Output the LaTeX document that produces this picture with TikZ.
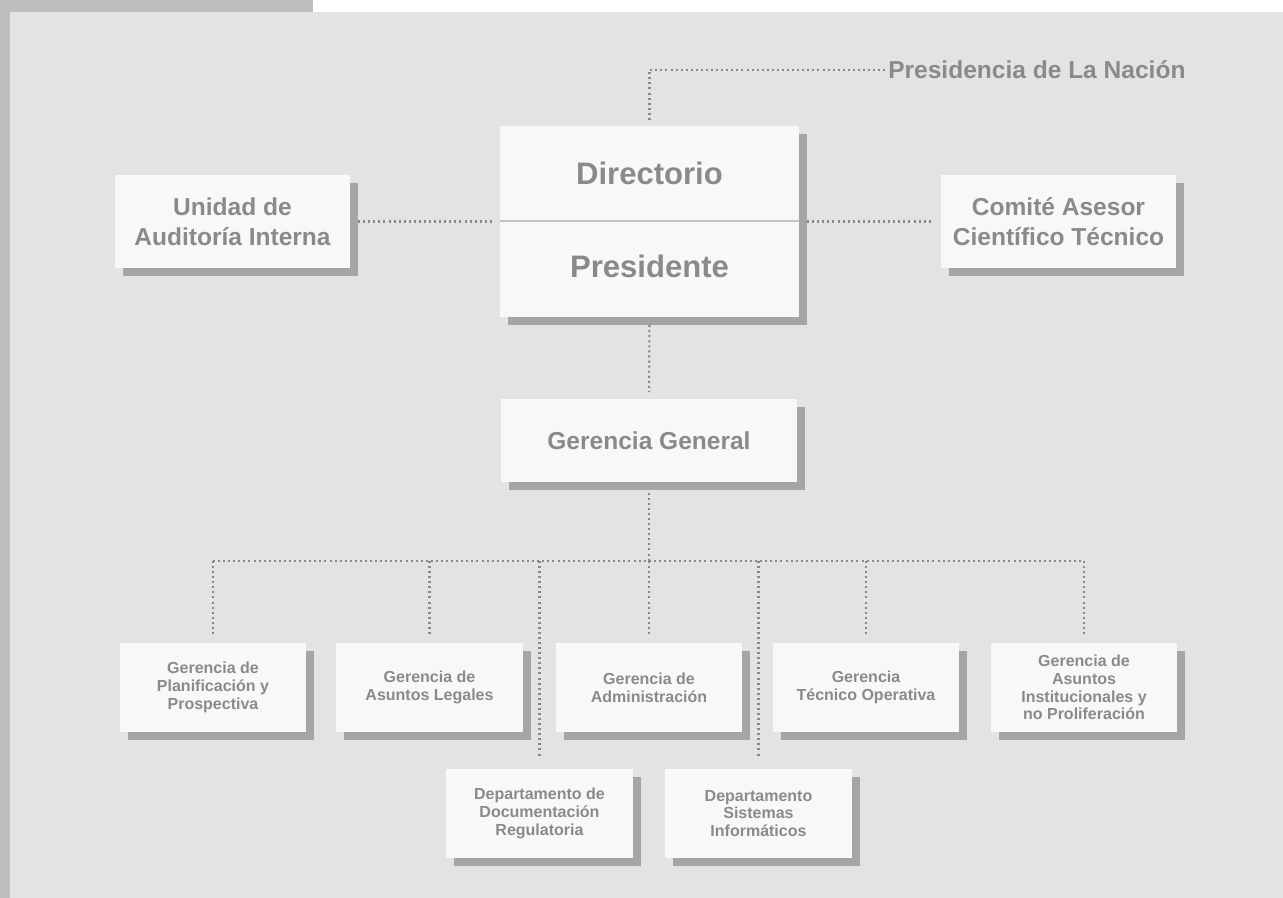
\documentclass[tikz,border=0pt]{standalone}
\usepackage{fontspec}
\setmainfont{Liberation Sans}
\usepackage{tikz}
\usetikzlibrary{shadows}
\definecolor{panel}{HTML}{E3E3E3}
\definecolor{strip}{HTML}{BEBEBE}
\definecolor{boxfill}{HTML}{F8F8F8}
\definecolor{shade}{HTML}{A5A5A5}
\definecolor{txt}{HTML}{8A8A8A}
\definecolor{dots}{HTML}{888888}
\definecolor{divider}{HTML}{C4C4C4}
\newcommand{\bigsize}{\fontsize{23.3}{28}\selectfont\bfseries}
\newcommand{\midsize}{\fontsize{18.4}{22.5}\selectfont\bfseries}
\newcommand{\smallsize}{\fontsize{12}{13.3}\selectfont\bfseries}

\tikzset{
  unit/.style={fill=boxfill, text=txt, align=center, inner sep=0pt,
    general shadow={fill=shade, shadow xshift=6pt, shadow yshift=-6pt}},
  topunit/.style={unit, font=\midsize, minimum width=176pt, minimum height=70pt},
  subunit/.style={unit, font=\smallsize, minimum width=140pt, minimum height=67pt},
  label/.style={text=txt, inner sep=0pt},
  link/.style={draw=dots, line width=1.6pt, dash pattern=on 1.5pt off 2.3pt}
}

\begin{document}
\begin{tikzpicture}[x=0.75pt,y=-0.75pt]
  \useasboundingbox (0,0) rectangle (1283,898);
  \fill[panel] (0,0) rectangle (1283,898);
  \fill[strip] (0,0) rectangle (10,898);
  \fill[strip] (0,0) rectangle (313,12);
  \fill[white] (313,0) rectangle (1283,12);

  \node[topunit] (unidad) at (232.5,221.5) {Unidad de\\Auditoría Interna};
  \node[topunit] (comite) at (1058.5,221.5) {Comité Asesor\\Científico Técnico};
  \node[unit, minimum width=224pt, minimum height=143pt] (board) at (649.5,221.5) {};
  \draw[divider, line width=1.5pt] (board.west) -- (board.east);
  \node[label, font=\bigsize] (dir) at (649.5,173) {Directorio};
  \node[label, font=\bigsize] (pres) at (649.5,266) {Presidente};
  \node[label, font=\midsize, anchor=west] (nacion) at (888,70) {Presidencia de La Nación};
  \node[unit, font=\midsize, minimum width=222pt, minimum height=62pt] (gg) at (649,440.5) {Gerencia General};

  \node[subunit] (plan) at (213,687.5) {Gerencia de\\Planificación y\\Prospectiva};
  \node[subunit] (legal) at (429.5,687.5) {Gerencia de\\Asuntos Legales};
  \node[subunit] (admin) at (649,687.5) {Gerencia de\\Administración};
  \node[subunit] (tecn) at (866,687.5) {Gerencia\\Técnico Operativa};
  \node[subunit] (inst) at (1084,687.5) {Gerencia de\\Asuntos\\Institucionales y\\no Proliferación};
  \node[subunit] (docreg) at (539.5,813.5) {Departamento de\\Documentación\\Regulatoria};
  \node[subunit] (sist) at (758.5,813.5) {Departamento\\Sistemas\\Informáticos};

  \draw[link, shorten <=4.5pt, shorten >=2pt] (board.north) |- (nacion.west);
  \draw[link, shorten <=6pt, shorten >=6pt] (unidad.east) -- (board.west);
  \draw[link, shorten <=6pt, shorten >=6pt] (board.east) -- (comite.west);
  \draw[link, shorten <=6pt, shorten >=5pt] (board.south) -- (gg.north);

  \coordinate (bus) at (649,561);
  \draw[link, shorten <=8pt] (gg.south) -- (bus);
  \draw[link] (plan.north |- bus) -- (inst.north |- bus);
  \foreach \n in {plan,legal,admin,tecn,inst}
    \draw[link, shorten >=6pt] (\n.north |- bus) -- (\n.north);
  \foreach \n in {docreg,sist}
    \draw[link, shorten >=8pt] (\n.north |- bus) -- (\n.north);
\end{tikzpicture}
\end{document}
